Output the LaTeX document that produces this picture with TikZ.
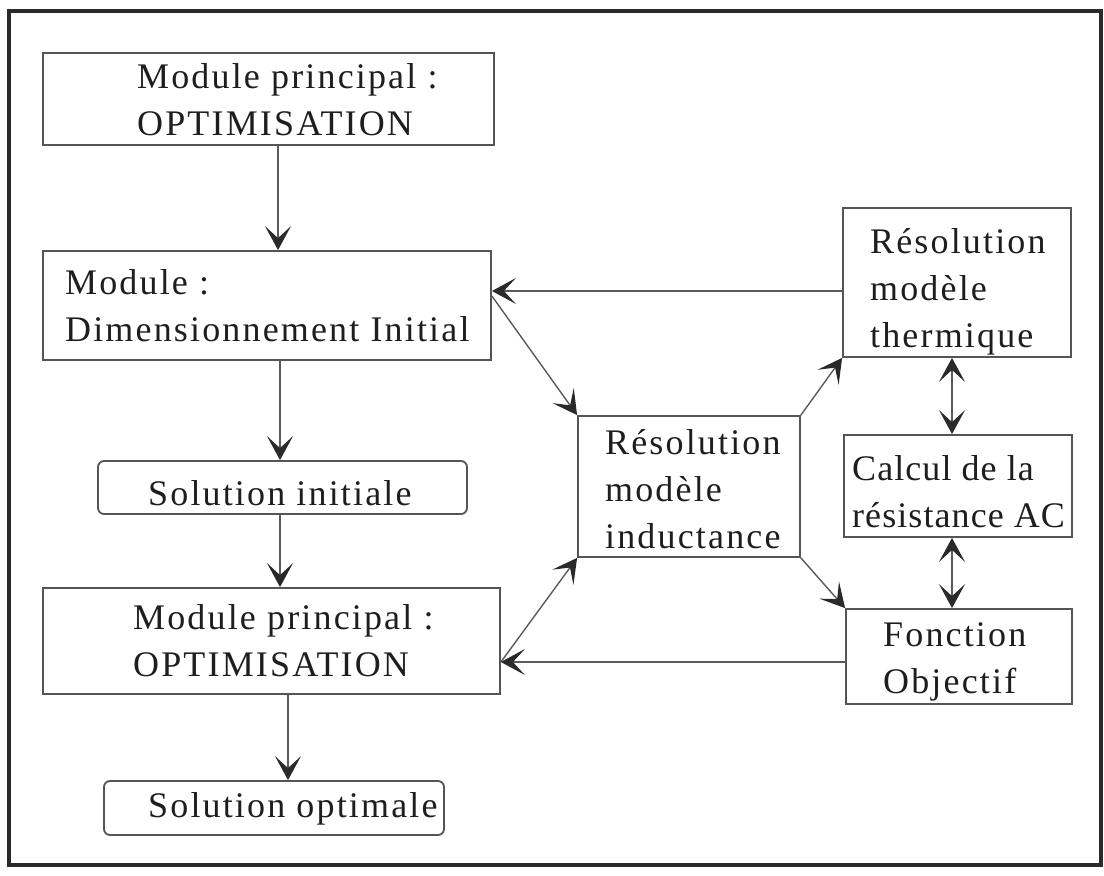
\documentclass[tikz,border=0pt]{standalone}
\usepackage{fontspec}
\setmainfont{Liberation Serif}[LetterSpace=6]
\usetikzlibrary{arrows.meta}

\definecolor{boxgray}{HTML}{555555}
\definecolor{linegray}{HTML}{5A5A5A}
\definecolor{tipgray}{HTML}{2A2A2A}
\definecolor{textcol}{HTML}{1E1E1E}
\definecolor{framegray}{HTML}{2A2A2A}

\begin{document}
\begin{tikzpicture}[x=1pt,y=-1pt,
  box/.style={draw=boxgray, line width=1.8pt, inner sep=0pt},
  rbox/.style={box, rounded corners=6pt},
  % a multi-line label sits on the baseline of its last line
  txt/.style={anchor=base west, inner sep=0pt, align=left,
    font=\fontsize{36}{47}\selectfont, text=textcol},
  >={Stealth[length=24pt,width=26pt,inset=12pt,color=tipgray]},
  arr/.style={draw=linegray, line width=1.4pt, ->},
  darr/.style={draw=linegray, line width=1.4pt, <->}]

\useasboundingbox (0,0) rectangle (1104,876);
\draw[framegray, line width=3.5pt] (9,11) rectangle (1101,865);

% boxes (centre, size)
\node[box,  minimum width=451, minimum height=92]  (A) at (268.5,99)  {};
\node[box,  minimum width=448, minimum height=109] (B) at (267,305.5) {};
\node[rbox, minimum width=369, minimum height=53]  (C) at (282.5,487.5) {};
\node[box,  minimum width=457, minimum height=106] (D) at (271.5,641) {};
\node[rbox, minimum width=340, minimum height=54]  (E) at (274,808) {};
\node[box,  minimum width=222, minimum height=141] (F) at (689,486.5) {};
\node[box,  minimum width=228, minimum height=149] (G) at (957,282.5) {};
\node[box,  minimum width=228, minimum height=102] (H) at (958,486) {};
\node[box,  minimum width=226, minimum height=95]  (I) at (959,656.5) {};

% labels
\node[txt] (At) at (137,135) {Module principal :\\OPTIMISATION};
\node[txt] (Bt) at (65,341)  {Module :\\Dimensionnement Initial};
\node[txt] (Ct) at (148,505) {Solution initiale};
\node[txt] (Dt) at (133,676) {Module principal :\\OPTIMISATION};
\node[txt] (Et) at (148,817) {Solution optimale};
\node[txt] (Ft) at (605,548) {Résolution\\modèle\\inductance};
\node[txt] (Gt) at (870,347) {Résolution\\modèle\\thermique};
\node[txt, font=\fontsize{36}{47}\selectfont\addfontfeatures{LetterSpace=3}]
  (Ht) at (852,527) {Calcul de la\\résistance AC};
\node[txt] (It) at (883,693) {Fonction\\Objectif};

% main chain
\draw[arr] ([xshift=9.5pt]A.south) -- ([xshift=9.5pt]A.south |- B.north);
\draw[arr] ([xshift=13pt]B.south) -- ([xshift=13pt]B.south |- C.north);
\draw[arr] ([xshift=-2.5pt]C.south) -- ([xshift=-2.5pt]C.south |- D.north);
\draw[arr] ([xshift=16.5pt]D.south) -- ([xshift=16.5pt]D.south |- E.north);

% loop through the models
\draw[arr] ([yshift=-8.5pt]G.west) -- ([yshift=-8.5pt]G.west -| B.east);
\draw[arr] ([yshift=9.5pt]B.east) -- (F.north west);
\draw[arr] (F.north east) -- (G.south west);
\draw[arr] (F.south east) -- (I.north west);
\draw[arr] ([yshift=-21pt]D.east) -- (F.south west);
\draw[arr] ([yshift=-5.5pt]I.west) -- ([yshift=-5.5pt]I.west -| D.east);
\draw[darr] ([xshift=-6pt]H.north) -- ([xshift=-6pt]H.north |- G.south);
\draw[darr] ([xshift=-6pt]H.south) -- ([xshift=-6pt]H.south |- I.north);
\end{tikzpicture}
\end{document}
